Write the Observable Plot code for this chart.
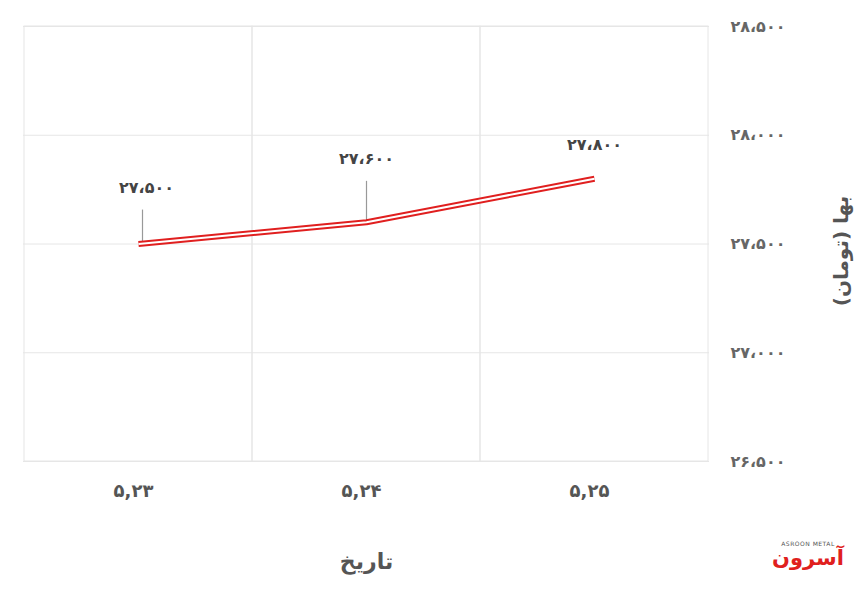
<!DOCTYPE html>
<html><head><meta charset="utf-8">
<script src="https://cdn.jsdelivr.net/npm/d3@7"></script>
<script src="https://cdn.jsdelivr.net/npm/@observablehq/plot@0.6"></script>
<style>
body{margin:0;background:#fff;}
#wrap{position:relative;width:860px;height:589px;}
#logo{position:absolute;left:772px;top:540px;width:72px;text-align:center;font-family:"DejaVu Sans";}
#logo .en{font-size:6px;color:#555;letter-spacing:0.5px;direction:ltr;}
#logo .fa{font-size:21px;font-weight:bold;color:#e0201d;line-height:22px;}
</style></head>
<body><div id="wrap"><div id="logo"><div class="en">ASROON METAL</div><div class="fa">آسرون</div></div></div>
<script>
const dates = ["۵,۲۳", "۵,۲۴", "۵,۲۵"];
const prices = [27500, 27600, 27800];
const yTicks = [26500, 27000, 27500, 28000, 28500];
const xTitle = "تاریخ";
const yTitle = "بها (تومان)";

const faDigits = "۰۱۲۳۴۵۶۷۸۹";
const fa = v => d3.format(",")(v).replace(/\d/g, c => faDigits[+c]).replace(/,/g, "،");
const data = dates.map((d, i) => ({date: d, value: prices[i]}));
const red = "#e01f1f";
const font = "DejaVu Sans";

const chart = Plot.plot({
  width: 860, height: 589,
  marginLeft: 23, marginRight: 151, marginTop: 26, marginBottom: 128,
  style: {fontFamily: font, background: "white"},
  x: {type: "band", domain: dates, padding: 0, label: null},
  y: {domain: [26500, 28500], label: null},
  marks: [
    Plot.gridY(yTicks, {stroke: "#e6e6e6", strokeOpacity: 1}),
    Plot.cell(dates, {x: d => d, stroke: "#e6e6e6", fill: "none"}),
    Plot.axisY(yTicks, {anchor: "right", tickSize: 0, tickPadding: 21, tickFormat: fa, fontSize: 16, fontWeight: "bold", fill: "#666", label: null}),
    Plot.axisX({anchor: "bottom", tickSize: 0, tickPadding: 23, fontSize: 18, fontWeight: "bold", fill: "#555", label: null, dx: -5}),
    Plot.text([xTitle], {frameAnchor: "bottom", dy: 107, fontSize: 22, fontWeight: "bold", fill: "#555"}),
    Plot.text([yTitle], {frameAnchor: "right", textAnchor: "middle", rotate: -90, dx: 132, dy: 7, fontSize: 20, fontWeight: "bold", fill: "#555"}),
    Plot.ruleX(data, {filter: (d, i) => i === 0, x: "date", y1: "value", y2: d => d.value + 156, dx: 4, stroke: "#999", strokeWidth: 1.2}),
    Plot.ruleX(data, {filter: (d, i) => i === 1, x: "date", y1: "value", y2: d => d.value + 188, stroke: "#999", strokeWidth: 1.2}),
    Plot.line(data, {x: "date", y: "value", stroke: red, strokeWidth: 6, strokeLinecap: "butt"}),
    Plot.line(data, {x: "date", y: "value", stroke: "white", strokeWidth: 2, strokeLinecap: "butt"}),
    Plot.text(data, {filter: (d, i) => i === 0, x: "date", y: "value", text: d => fa(d.value), dx: 8, dy: -56, fontSize: 16, fontWeight: "bold", fill: "#444"}),
    Plot.text(data, {filter: (d, i) => i === 1, x: "date", y: "value", text: d => fa(d.value), dy: -63, fontSize: 16, fontWeight: "bold", fill: "#444"}),
    Plot.text(data, {filter: (d, i) => i === 2, x: "date", y: "value", text: d => fa(d.value), dy: -34, fontSize: 16, fontWeight: "bold", fill: "#444"})
  ]
});
document.getElementById("wrap").prepend(chart);
</script>
</body></html>
